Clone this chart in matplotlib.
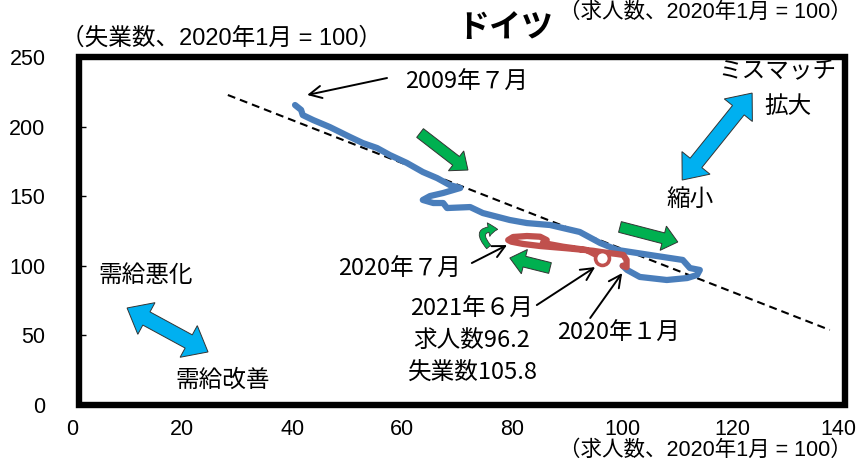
import numpy as np
import matplotlib
matplotlib.use("Agg")
import matplotlib.pyplot as plt
from matplotlib.patches import Polygon, Rectangle, FancyArrowPatch
from matplotlib.transforms import IdentityTransform, ScaledTranslation

plt.rcParams["font.family"] = ["Noto Sans CJK JP", "DejaVu Sans"]

# blue: 2009-07 .. 2020-01 (x = 求人数, y = 失業数, 2020年1月 = 100)
blue_x = [40.5, 41.6, 41.9, 43.8, 46.8, 50.5, 52.8, 55.4, 57.7, 60.8, 63.7, 66.3, 68.6,
          70.5, 67.4, 65.0, 63.7, 65.6, 67.4, 68.1, 72.3, 74.6, 79.5, 82.6, 86.8, 92.2,
          95.9, 99.0, 104.9, 110.9, 112.2, 114.0, 113.5, 111.7, 108.0, 103.1, 100.8, 100.0]
blue_y = [215.5, 212.0, 208.3, 204.7, 199.7, 192.5, 188.2, 184.6, 179.6, 173.9, 167.4, 163.0, 158.0,
          155.9, 152.3, 150.1, 147.3, 145.1, 145.1, 141.5, 142.2, 137.9, 132.9, 130.7, 129.3, 124.3,
          116.4, 111.4, 107.8, 104.2, 98.4, 97.0, 93.4, 91.2, 89.8, 92.0, 97.0, 100.0]

# red: 2020-01 .. 2021-06
red_x = [100.0, 100.7, 100.7, 100.1, 98.9, 96.8, 94.6, 89.8, 85.0, 81.9, 79.8, 79.2, 80.1,
         82.6, 85.0, 86.2, 85.5, 89.2, 93.4, 96.2]
red_y = [100.0, 99.0, 104.2, 107.8, 108.5, 109.5, 110.8, 112.6, 114.2, 115.7, 117.3, 118.5, 120.7,
         121.4, 120.9, 118.5, 116.4, 113.7, 111.4, 105.8]

latest = (96.2, 105.8)

trend_x = [28.3, 137.6]
trend_y = [222.7, 53.9]

x_ticks = [0, 20, 40, 60, 80, 100, 120, 140]
y_ticks = [0, 50, 100, 150, 200, 250]

BLUE = "#4A7EBB"
RED = "#C0504D"
GREEN = "#00B050"
CYAN = "#00B0F0"
FS = 17


def block_arrow(ax, p0, p1, shaft, head_w, head_len, color, double=False):
    # filled arrow built in pixel space so it keeps its shape
    a = ax.transData.transform(p0)
    b = ax.transData.transform(p1)
    d = b - a
    u = d / np.hypot(*d)
    n = np.array([-u[1], u[0]])
    sw, hw = shaft / 2, head_w / 2
    if double:
        pts = [a, a + u * head_len + n * hw, a + u * head_len + n * sw,
               b - u * head_len + n * sw, b - u * head_len + n * hw, b,
               b - u * head_len - n * hw, b - u * head_len - n * sw,
               a + u * head_len - n * sw, a + u * head_len - n * hw]
    else:
        pts = [a + n * sw, b - u * head_len + n * sw, b - u * head_len + n * hw, b,
               b - u * head_len - n * hw, b - u * head_len - n * sw, a - n * sw]
    ax.add_patch(Polygon(pts, closed=True, facecolor=color, edgecolor="#333333",
                         lw=0.7, transform=IdentityTransform(), zorder=4))


def note(ax, text, xy, head, tail):
    ax.text(xy[0], xy[1], text, fontsize=FS, ha="center", va="center")
    ax.annotate("", xy=head, xytext=tail,
                arrowprops=dict(arrowstyle="->", lw=1.4, color="black",
                                mutation_scale=22, shrinkA=0, shrinkB=0))


def main():
    W, H = 859, 465
    fig = plt.figure(figsize=(W / 100, H / 100), dpi=100)
    ax = fig.add_axes([72 / W, 60 / H, 771 / W, 348 / H])
    ax.set_xlim(0, 140)
    ax.set_ylim(0, 250)

    for s in ax.spines.values():
        s.set_visible(False)
    ax.add_patch(Rectangle((0.009, 0), 0.994, 1.0, transform=ax.transAxes, fill=False,
                           lw=4.6, edgecolor="black", clip_on=False, zorder=6))
    ax.hlines(y_ticks[1:-1], 1.3, 2.6, color="black", lw=1)

    ax.set_xticks(x_ticks)
    ax.set_yticks(y_ticks)
    ax.tick_params(axis="both", length=0, labelsize=15.5)
    ax.tick_params(axis="x", pad=10)
    ax.tick_params(axis="y", pad=19)
    for lab in ax.get_xticklabels() + ax.get_yticklabels():
        lab.set_fontfamily(["Liberation Sans", "DejaVu Sans"])
    # the last x label sits a little left of its tick, as in the original
    last = ax.xaxis.get_major_ticks()[-1].label1
    last.set_transform(last.get_transform() + ScaledTranslation(-5 / 100, 0, fig.dpi_scale_trans))

    line, = ax.plot(trend_x, trend_y, color="black", lw=1.5, zorder=2)
    line.set_dashes([3.8, 2.4])

    ax.plot(blue_x, blue_y, color=BLUE, lw=4.5, solid_capstyle="round",
            solid_joinstyle="round", zorder=3)
    ax.plot(red_x, red_y, color=RED, lw=4.5, solid_capstyle="round",
            solid_joinstyle="round", zorder=3)
    ax.plot(*latest, "o", ms=10, mfc="white", mec=RED, mew=2.6, zorder=5)

    # green direction arrows
    block_arrow(ax, (63.2, 195.4), (71.9, 168.8), 11, 25, 15, GREEN)
    block_arrow(ax, (99.5, 127.9), (110.0, 117.1), 11, 25, 15, GREEN)
    block_arrow(ax, (86.8, 98.4), (79.5, 105.6), 11, 25, 15, GREEN)
    ax.add_patch(FancyArrowPatch((76.0, 112.0), (77.8, 126.0), connectionstyle="arc3,rad=-1.3",
                                 arrowstyle="simple,head_width=0.9,head_length=0.6,tail_width=0.35",
                                 mutation_scale=11, facecolor=GREEN, edgecolor="#333333",
                                 lw=0.6, zorder=4))

    # cyan double arrows
    block_arrow(ax, (110.8, 161.6), (123.5, 224.1), 15, 36, 22, CYAN, double=True)
    block_arrow(ax, (10.0, 69.7), (24.7, 38.1), 15, 36, 22, CYAN, double=True)

    ax.text(128.0, 239.2, "ミスマッチ", fontsize=FS, ha="center", va="center")
    ax.text(130.0, 214.1, "拡大", fontsize=FS, ha="center", va="center")
    ax.text(112.2, 147.3, "縮小", fontsize=FS, ha="center", va="center")
    ax.text(13.3, 93.4, "需給悪化", fontsize=FS, ha="center", va="center")
    ax.text(27.4, 18.0, "需給改善", fontsize=FS, ha="center", va="center")

    note(ax, "2009年７月", (71.6, 232.0), (42.7, 222.7), (57.2, 234.9))
    note(ax, "2020年７月", (59.4, 97.7), (79.0, 114.9), (72.6, 102.0))
    note(ax, "2021年６月", (72.6, 69.0), (95.0, 99.1), (84.4, 71.8))
    note(ax, "2020年１月", (99.3, 51.7), (99.9, 94.8), (94.1, 62.5))
    ax.text(72.6, 46.7, "求人数96.2", fontsize=FS, ha="center", va="center")
    ax.text(72.8, 23.0, "失業数105.8", fontsize=FS, ha="center", va="center")

    lab_font = ["Liberation Sans", "Noto Sans CJK JP", "DejaVu Sans"]
    fig.text(505 / W, 1 - 28 / H, "ドイツ", fontsize=23, fontweight="bold",
             ha="center", va="center")
    fig.text(222 / W, 1 - 38 / H, "（失業数、2020年1月 = 100）", fontsize=17,
             family=lab_font, ha="center", va="center")
    fig.text(705 / W, 1 - 450 / H, "（求人数、2020年1月 = 100）", fontsize=15.5,
             family=lab_font, ha="center", va="center")
    fig.text(705 / W, 1 - 12 / H, "（求人数、2020年1月 = 100）", fontsize=15.5,
             family=lab_font, ha="center", va="center")

    fig.savefig("out.png", dpi=100)


if __name__ == "__main__":
    main()
